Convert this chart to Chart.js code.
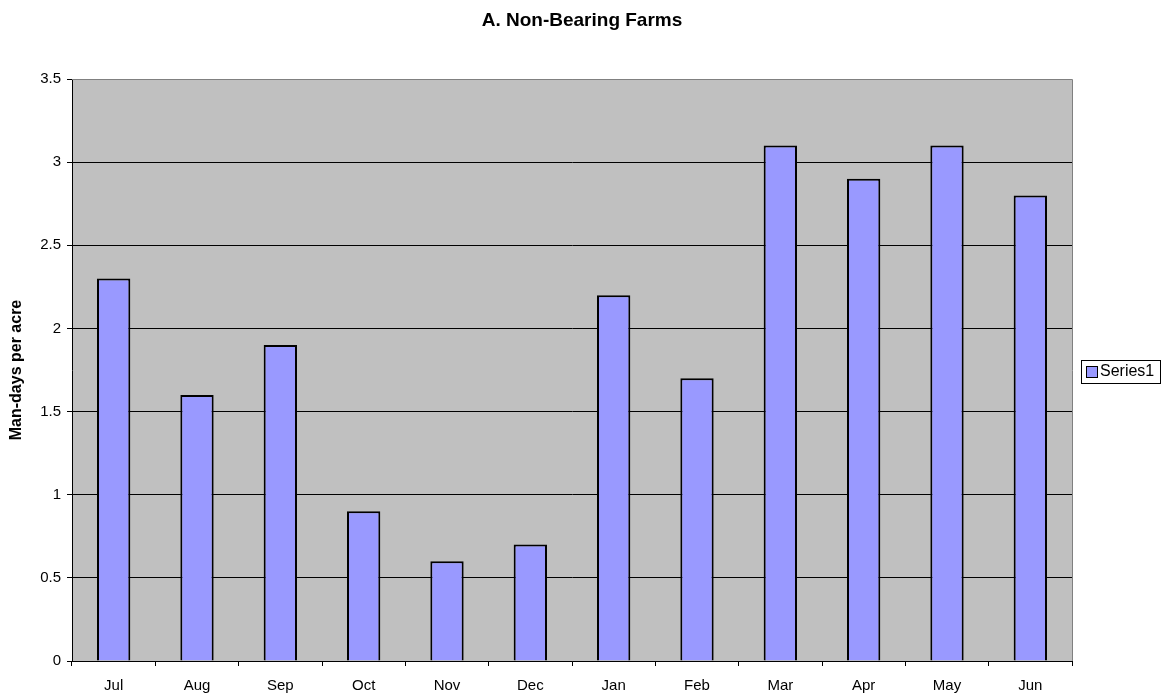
<!DOCTYPE html>
<html>
<head>
<meta charset="utf-8">
<script src="https://cdn.jsdelivr.net/npm/chart.js@4"></script>
<style>
  html, body { margin: 0; padding: 0; background: #fff; }
  #wrap { width: 1166px; height: 695px; }
</style>
</head>
<body>
<div id="wrap"><canvas id="c" width="1166" height="695"></canvas></div>
<script>
// data
const months = ['Jul', 'Aug', 'Sep', 'Oct', 'Nov', 'Dec', 'Jan', 'Feb', 'Mar', 'Apr', 'May', 'Jun'];
const series1 = [2.3, 1.6, 1.9, 0.9, 0.6, 0.7, 2.2, 1.7, 3.1, 2.9, 3.1, 2.8];
const yTicks = [0, 0.5, 1, 1.5, 2, 2.5, 3, 3.5];

const FONT = 'Liberation Sans, Arial, sans-serif';

// grey plot background, grey top/right frame, title and boxed legend
const excelLook = {
  id: 'excelLook',
  beforeDraw(chart) {
    const { ctx, chartArea: a } = chart;
    ctx.save();
    ctx.fillStyle = '#C0C0C0';
    ctx.fillRect(a.left, a.top, a.right - a.left, a.bottom - a.top);
    ctx.restore();
  },
  beforeDatasetsDraw(chart) {
    const { ctx, chartArea: a } = chart;
    ctx.save();
    ctx.strokeStyle = '#808080';
    ctx.lineWidth = 1;
    ctx.beginPath();
    ctx.moveTo(a.left, a.top + 0.5);
    ctx.lineTo(a.right + 0.5, a.top + 0.5);
    ctx.lineTo(a.right + 0.5, a.bottom);
    ctx.stroke();
    ctx.restore();
  },
  afterDraw(chart) {
    const { ctx } = chart;
    ctx.save();
    // title
    ctx.font = 'bold 19px ' + FONT;
    ctx.fillStyle = '#000';
    ctx.textAlign = 'center';
    ctx.textBaseline = 'middle';
    ctx.fillText('A. Non-Bearing Farms', 582, 21);

    // legend
    const ds = chart.data.datasets[0];
    ctx.fillStyle = '#fff';
    ctx.fillRect(1081, 360, 79, 23);
    ctx.strokeStyle = '#000';
    ctx.lineWidth = 1;
    ctx.strokeRect(1081.5, 360.5, 79, 23);
    ctx.fillStyle = ds.backgroundColor;
    ctx.fillRect(1087, 367, 10, 10);
    ctx.strokeRect(1086.5, 366.5, 11, 11);
    ctx.fillStyle = '#000';
    ctx.font = '16px ' + FONT;
    ctx.textAlign = 'left';
    ctx.fillText(ds.label, 1100, 372);
    ctx.restore();
  }
};

new Chart(document.getElementById('c'), {
  type: 'bar',
  data: {
    labels: months,
    datasets: [{
      label: 'Series1',
      data: series1,
      backgroundColor: '#9999FF',
      borderColor: '#000',
      borderWidth: 2,
      barPercentage: 0.4,
      categoryPercentage: 1.0
    }]
  },
  options: {
    responsive: false,
    animation: false,
    layout: { padding: { top: 79, right: 94, left: 0, bottom: 0 } },
    plugins: {
      legend: { display: false },
      title: { display: false },
      tooltip: { enabled: false }
    },
    scales: {
      x: {
        offset: true,
        afterFit(s) { s.height = 34; },
        grid: {
          offset: true,
          drawOnChartArea: false,
          drawTicks: true,
          tickLength: 5,
          color: '#000'
        },
        border: { color: '#000', width: 1 },
        ticks: { color: '#000', font: { family: FONT, size: 15 }, padding: 11, maxRotation: 0 }
      },
      y: {
        min: 0,
        max: 3.5,
        afterFit(s) { s.width = 72; },
        afterBuildTicks(s) { s.ticks = yTicks.map(v => ({ value: v })); },
        grid: {
          color: ctx => (ctx.tick && ctx.tick.value === 3.5 ? '#808080' : '#000'),
          tickColor: '#000',
          tickLength: 5,
          drawTicks: true
        },
        border: { color: '#000', width: 1 },
        ticks: {
          color: '#000',
          font: { family: FONT, size: 15 },
          padding: 6,
          callback: v => String(v)
        },
        title: {
          display: true,
          text: 'Man-days per acre',
          color: '#000',
          font: { family: FONT, size: 16, weight: 'bold' },
          padding: { top: 7, bottom: 0 }
        }
      }
    }
  },
  plugins: [excelLook]
});
</script>
</body>
</html>
